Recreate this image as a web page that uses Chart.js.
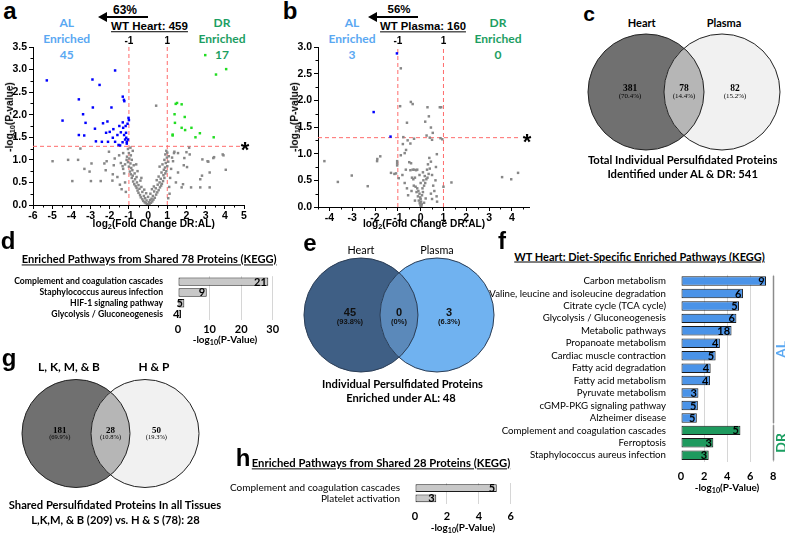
<!DOCTYPE html>
<html><head><meta charset="utf-8"><title>Persulfidation figure</title>
<script src="https://cdn.jsdelivr.net/npm/chart.js@4.4.1/dist/chart.umd.min.js"></script>
<style>
html,body{margin:0;padding:0;background:#fff;}
#fig{position:relative;width:785px;height:536px;overflow:hidden;background:#fff;}
#fig canvas{position:absolute;}
.t{position:absolute;white-space:nowrap;line-height:1;}
.t sub{font-size:72%;vertical-align:-0.3em;line-height:0;}
.arrow{position:absolute;height:0;border-top:2.5px solid #000;}
.arrow:before{content:'';position:absolute;left:-9px;top:-6.25px;border-right:9px solid #000;border-top:5px solid transparent;border-bottom:5px solid transparent;}
</style></head><body><div id="fig"></div>
<script>
// ================= DATA =================
// (a) WT Heart volcano: [log2 fold change DR:AL, -log10 p]
const aGray = [
[0.02,0.01],[-0.05,0.02],[0.08,0.03],[-0.12,0.04],[0.15,0.05],[-0.18,0.06],[0.04,0.06],[0.22,0.08],[-0.25,0.09],[-0.08,0.1],
[0.1,0.11],[0.28,0.12],[-0.3,0.13],[0.18,0.14],[-0.15,0.15],[0.35,0.16],[-0.38,0.17],[0.0,0.18],[-0.22,0.2],[0.25,0.2],
[-0.42,0.22],[0.42,0.23],[0.12,0.25],[-0.1,0.26],[-0.5,0.27],[0.48,0.28],[-0.3,0.29],[0.32,0.3],[-0.55,0.32],[0.55,0.33],
[-0.2,0.34],[0.2,0.35],[-0.45,0.36],[0.4,0.37],[-0.6,0.38],[0.62,0.39],[-0.35,0.4],[0.3,0.41],[-0.65,0.42],[0.68,0.43],
[-0.5,0.44],[0.5,0.45],[-0.72,0.46],[0.72,0.47],[-0.58,0.5],[0.6,0.5],[-0.78,0.52],[0.78,0.53],[-0.4,0.54],[0.45,0.55],
[-0.68,0.57],[0.66,0.58],[-0.85,0.6],[0.85,0.6],[-0.6,0.62],[0.55,0.63],[-0.8,0.65],[0.8,0.66],[-0.9,0.68],[0.9,0.7],
[-0.7,0.7],[0.7,0.72],[-0.95,0.74],[0.95,0.75],[-0.82,0.77],[0.82,0.78],[-0.88,0.82],[0.88,0.83],[-1.0,0.85],[1.0,0.86],
[-0.75,0.88],[0.75,0.9],[-0.92,0.92],[0.92,0.93],[-1.05,0.95],[1.05,0.96],[-0.85,1.0],[0.85,1.0],[-0.98,1.03],[0.98,1.05],
[-1.1,1.07],[1.08,1.08],[-0.9,1.1],[0.9,1.12],[-1.0,1.15],[1.0,1.16],[-0.8,1.2],[0.95,1.2],[-1.05,1.24],[-0.92,1.27],
[-1.2,0.9],[-1.3,0.8],[-1.42,0.93],[-1.51,1.1],[-1.74,1.03],[-1.33,0.86],[-1.25,0.7],[-1.16,0.29],[-1.47,0.45],[-1.79,0.88],
[-1.84,0.68],[-1.86,0.54],[-2.04,1.18],[-2.16,0.97],[-2.28,0.92],[-2.21,0.77],[-2.95,0.92],[-2.47,0.53],[-2.98,0.53],[-3.05,0.74],
[-3.32,0.8],[-3.95,0.53],[-3.53,1.25],[-3.65,1.0],[-4.17,1.0],[-4.98,0.97],[-1.6,0.62],[-1.38,0.35],[-1.2,0.5],[-1.12,1.0],
[-1.3,1.15],[1.35,1.15],[1.56,1.15],[2.0,1.17],[1.89,1.04],[2.17,1.12],[3.1,0.97],[3.4,1.04],[3.89,1.12],[4.05,0.78],
[3.21,0.72],[2.81,0.65],[2.72,0.57],[2.72,0.39],[2.24,0.39],[1.75,0.39],[3.21,0.39],[1.86,0.88],[2.03,0.84],[1.56,0.72],
[1.45,0.5],[1.82,0.46],[1.3,0.97],[1.2,0.8],[1.15,0.6],[1.1,0.4],[1.25,1.05],[2.83,1.01],[3.44,1.06],[3.93,1.1],
[3.14,0.96],[1.37,1.18],[2.14,1.27],[1.12,0.25],[1.05,0.15],[0.42,2.2],[-0.62,0.9],[-0.55,0.75],[0.6,0.85],[-0.35,0.6]
];
const aBlue = [
[-5.28,2.76],[-1.72,2.98],[-2.9,2.78],[-2.53,2.66],[-3.61,2.34],[-1.32,2.4],[-1.26,2.33],[-1.24,2.3],[-2.88,2.16],[-1.91,2.16],
[-3.39,2.01],[-4.46,1.87],[-1.02,1.93],[-1.0,1.88],[-3.26,1.82],[-2.35,1.81],[-2.12,1.85],[-1.32,1.83],[-1.07,1.8],[-2.77,1.69],
[-1.81,1.68],[-1.3,1.71],[-1.17,1.75],[-2.19,1.6],[-1.42,1.61],[-3.61,1.55],[-3.33,1.54],[-1.84,1.49],[-1.14,1.49],[-2.72,1.41],
[-2.41,1.4],[-2.09,1.4],[-1.72,1.4],[-1.33,1.39],[-1.54,1.33],[-1.46,1.32],[-1.11,1.4],[-1.11,1.36],[-1.05,1.45],[-1.6,1.55],
[-2.0,1.62],[-1.25,1.55],[-1.15,1.6],[-1.5,1.75],[-1.2,1.45]
];
const aGreen = [
[2.98,3.32],[4.07,3.01],[3.54,2.89],[1.51,2.26],[1.44,2.24],[1.75,2.23],[1.38,2.01],[1.91,1.95],[1.4,1.82],[1.75,1.71],
[1.93,1.66],[2.26,1.71],[1.28,1.56],[1.28,1.54],[2.7,1.59],[2.47,1.5],[3.42,1.5]
];
const aXTicks = [-6,-5,-4,-3,-2,-1,0,1,2,3,4,5];
const aYTicks = [0,0.5,1,1.5,2,2.5,3,3.5];

// (b) WT Plasma volcano
const bGray = [
[-0.87,2.6],[-0.9,1.89],[-0.43,1.97],[-0.35,1.93],[0.3,1.87],[0.84,1.87],[0.9,1.87],[0.36,1.7],[-0.6,1.58],[0.2,1.6],
[0.45,1.49],[0.53,1.39],[0.26,1.34],[0.4,1.3],[0.87,1.29],[-0.78,1.18],[-0.76,1.31],[-0.29,1.28],[-0.57,1.25],[-0.45,1.19],
[0.71,0.99],[-0.64,1.07],[-0.7,1.01],[-0.87,0.97],[0.67,0.75],[0.95,1.27],[0.5,1.26],
[-4.22,0.86],[-3.63,0.47],[-3.02,0.59],[-2.32,0.39],[-1.91,0.86],[-1.9,0.9],[-1.77,0.95],[-1.3,0.64],[-1.15,0.62],
[-1.03,0.86],[-1.03,0.82],[-1.03,0.78],[-0.96,0.54],[-1.08,0.63],
[1.0,0.38],[1.35,0.46],[3.57,0.56],[3.97,0.52],[4.27,0.64],
[-0.5,0.84],[-0.42,0.82],[-0.35,0.7],[-0.28,0.7],[-0.2,0.69],[-0.15,0.7],[-0.45,0.69],[-0.38,0.55],[-0.32,0.52],[-0.25,0.55],
[-0.3,0.4],[-0.22,0.38],[-0.15,0.35],[-0.1,0.3],[-0.18,0.28],[-0.05,0.25],[-0.12,0.2],[-0.02,0.18],[-0.08,0.12],[0.02,0.1],
[-0.04,0.07],[0.05,0.05],[-0.01,0.03],[0.03,0.01],[0.0,0.15],[0.06,0.22],[0.1,0.28],[0.08,0.35],[0.15,0.4],[0.2,0.45],
[0.12,0.5],[0.25,0.52],[0.18,0.58],[0.3,0.55],[0.35,0.62],[0.28,0.7],[0.4,0.72],[0.32,0.8],[0.45,0.85],[0.38,0.92],
[0.5,0.6],[0.55,0.4],[0.6,0.3],[0.45,0.25],[0.65,0.5],[0.7,0.2],[0.72,0.1],[-0.6,0.35],[-0.55,0.22],[-0.7,0.45],
[-0.65,0.7],[-0.8,0.6],[0.0,0.45],[-0.05,0.6],[0.22,0.16],[0.15,0.08],[-0.25,0.12],[0.1,0.65],[-0.4,0.3],[0.5,0.15]
];
const bBlue = [[-1.04,2.88],[-2.06,1.78],[-1.32,1.32]];
const bGreen = [];
const bXTicks = [-4,-3,-2,-1,0,1,2,3,4];
const bYTicks = [0,0.5,1,1.5,2,2.5,3];

const foldCut = [-1, 1];
const sigCut = 1.3;

// Venn diagrams: [only left, shared, only right]
const cSets = ['Heart','Plasma'];
const cCounts = [381, 78, 82];
const cPct = ['70.4%','14.4%','15.2%'];
const eSets = ['Heart','Plasma'];
const eCounts = [45, 0, 3];
const ePct = ['93.8%','0%','6.3%'];
const gSets = ['L, K, M, & B','H & P'];
const gCounts = [181, 28, 50];
const gPct = ['69.9%','10.8%','19.3%'];

// (d) pathways from shared 78 proteins
const dPathways = ['Complement and coagulation cascades','Staphylococcus aureus infection','HIF-1 signaling pathway','Glycolysis / Gluconeogenesis'];
const dLogP = [28.6, 9.1, 2.0, 0.95];
const dCounts = [21, 9, 5, 4];
const dTicks = [0,10,20,30];

// (f) diet-specific enriched pathways
const fPathways = ['Carbon metabolism','Valine, leucine and isoleucine degradation','Citrate cycle (TCA cycle)','Glycolysis / Gluconeogenesis','Metabolic pathways','Propanoate metabolism','Cardiac muscle contraction','Fatty acid degradation','Fatty acid metabolism','Pyruvate metabolism','cGMP-PKG signaling pathway','Alzheimer disease','Complement and coagulation cascades','Ferroptosis','Staphylococcus aureus infection'];
const fLogP = [7.37, 5.37, 5.03, 4.8, 4.38, 3.37, 3.0, 2.57, 2.51, 1.51, 1.46, 1.37, 5.15, 2.8, 2.4];
const fCounts = [9, 6, 5, 6, 18, 4, 5, 4, 4, 3, 5, 5, 5, 3, 3];
const fDiet = ['AL','AL','AL','AL','AL','AL','AL','AL','AL','AL','AL','AL','DR','DR','DR'];
const fTicks = [0,2,4,6,8];

// (h) pathways from shared 28 proteins
const hPathways = ['Complement and coagulation cascades','Platelet activation'];
const hLogP = [5.12, 1.33];
const hCounts = [5, 3];
const hTicks = [0,2,4,6];

// ================= STYLE / HELPERS =================
const FS = "'Liberation Sans', Arial, sans-serif";
const FL = "Lato, 'Open Sans', sans-serif";
const FR = "'Liberation Serif', 'Times New Roman', serif";
const AL_COLOR = '#5aa8f2', DR_COLOR = '#1c9e62';
const fig = document.getElementById('fig');
const mctx = document.createElement('canvas').getContext('2d');
function fitSize(text, family, weight, target){
  mctx.font = weight + ' 100px ' + family;
  return 100 * target / mctx.measureText(text).width;
}
function T(html, x, y, o){
  o = o || {};
  const d = document.createElement('div');
  d.className = 't';
  d.innerHTML = html;
  const fam = o.f || FL, w = o.w || 'bold';
  let size = o.s || 11;
  if (o.fit) size = fitSize(o.plain || html, fam, w, o.fit);
  d.style.fontFamily = fam; d.style.fontWeight = w; d.style.fontSize = size + 'px';
  d.style.color = o.c || '#000';
  d.style.left = x + 'px'; d.style.top = y + 'px';
  if (o.u) d.style.textDecoration = 'underline';
  let tr = o.left ? 'translate(0,-50%)' : 'translate(-50%,-50%)';
  if (o.rot) tr += ' rotate(' + o.rot + 'deg)';
  d.style.transform = tr;
  fig.appendChild(d);
  return size;
}
function arrow(x1, x2, y){
  const d = document.createElement('div');
  d.className = 'arrow';
  d.style.left = (x1 + 9) + 'px'; d.style.width = (x2 - x1 - 9) + 'px'; d.style.top = (y - 1.25) + 'px';
  fig.appendChild(d);
}
function makeCanvas(left, top, w, h){
  const c = document.createElement('canvas');
  c.width = w; c.height = h;
  c.style.left = left + 'px'; c.style.top = top + 'px';
  c.style.width = w + 'px'; c.style.height = h + 'px';
  fig.appendChild(c);
  return c;
}
function minors(majors, lo, hi, step){
  const out = [];
  majors.forEach(v => { [v - step, v + step].forEach(m => { if (m > lo - 1e-9 && m < hi + 1e-9 && !majors.includes(m) && !out.includes(m)) out.push(m); }); });
  return out;
}

// ================= PLUGINS =================
const volcanoDecor = {
  id: 'volcanoDecor',
  afterDraw(chart, args, o){
    const {ctx, chartArea: ca, scales: {x, y}} = chart;
    ctx.save();
    ctx.strokeStyle = '#000'; ctx.lineWidth = 1;
    ctx.beginPath();
    o.xMinor.forEach(v => { const px = Math.round(x.getPixelForValue(v)) + 0.5; ctx.moveTo(px, ca.bottom); ctx.lineTo(px, ca.bottom + 2.5); });
    o.yMinor.forEach(v => { const py = Math.round(y.getPixelForValue(v)) + 0.5; ctx.moveTo(ca.left, py); ctx.lineTo(ca.left - 2.5, py); });
    ctx.stroke();
    ctx.fillStyle = '#000'; ctx.font = 'bold 10px ' + FS; ctx.textAlign = 'center'; ctx.textBaseline = 'bottom';
    foldCut.forEach(v => ctx.fillText(String(v), x.getPixelForValue(v), ca.top - 0.5));
    ctx.font = 'bold 22px ' + FS; ctx.textBaseline = 'alphabetic';
    ctx.fillText('*', ca.right + o.starDx, y.getPixelForValue(sigCut) + 11);
    ctx.restore();
  }
};
const vennPlugin = {
  id: 'venn',
  afterDraw(chart, args, o){
    const {ctx, scales: {x, y}} = chart;
    const c1 = x.getPixelForValue(-o.sep), c2 = x.getPixelForValue(o.sep), cy = y.getPixelForValue(0);
    const r = x.getPixelForValue(1) - x.getPixelForValue(0);
    const circ = cx => { ctx.beginPath(); ctx.arc(cx, cy, r, 0, Math.PI * 2); };
    ctx.save();
    circ(c1); ctx.fillStyle = o.colors[0]; ctx.fill();
    circ(c2); ctx.fillStyle = o.colors[2]; ctx.fill();
    ctx.save(); circ(c1); ctx.clip(); circ(c2); ctx.fillStyle = o.colors[1]; ctx.fill(); ctx.restore();
    ctx.strokeStyle = o.stroke; ctx.lineWidth = 1;
    circ(c1); ctx.stroke(); circ(c2); ctx.stroke();
    ctx.fillStyle = o.textColor; ctx.textAlign = 'center'; ctx.textBaseline = 'middle';
    o.labelX.forEach((lx, i) => {
      const px = x.getPixelForValue(lx);
      ctx.font = o.countFont; ctx.fillText(String(o.counts[i]), px, cy + o.countDy);
      ctx.font = o.pctFont; ctx.fillText('(' + o.pct[i] + ')', px, cy + o.pctDy);
    });
    ctx.restore();
  }
};
const barCounts = {
  id: 'barCounts',
  afterDatasetsDraw(chart, args, o){
    const ctx = chart.ctx, meta = chart.getDatasetMeta(0);
    ctx.save();
    ctx.font = 'bold ' + o.size + 'px ' + FL; ctx.fillStyle = '#000'; ctx.textAlign = 'right'; ctx.textBaseline = 'middle';
    meta.data.forEach((bar, i) => ctx.fillText(String(o.counts[i]), bar.x - 1.5, bar.y + 0.5));
    ctx.restore();
  }
};
const dietBracket = {
  id: 'dietBracket',
  afterDraw(chart, args, o){
    if (!o || !o.groups) return;
    const {ctx, scales: {x, y}} = chart;
    const band = Math.abs(y.getPixelForValue(1) - y.getPixelForValue(0));
    const xr = Math.round(x.getPixelForValue(x.max)) + 0.5;
    ctx.save();
    o.groups.forEach(g => {
      const y0 = y.getPixelForValue(g.start) - band / 2 + 1, y1 = y.getPixelForValue(g.end) + band / 2 - 1;
      ctx.strokeStyle = '#8c8c8c'; ctx.lineWidth = 1.5;
      ctx.beginPath(); ctx.moveTo(xr, y0); ctx.lineTo(xr, y1); ctx.stroke();
      ctx.save(); ctx.translate(xr + o.dx, (y0 + y1) / 2); ctx.rotate(-Math.PI / 2);
      ctx.fillStyle = g.color; ctx.font = 'bold ' + o.size + 'px ' + FL; ctx.textAlign = 'center'; ctx.textBaseline = 'middle';
      ctx.fillText(g.name, 0, 0); ctx.restore();
    });
    ctx.restore();
  }
};

// ================= CHART BUILDERS =================
function volcano(o){
  const cv = makeCanvas(o.left, o.top, o.w, o.h);
  const pts = a => a.map(p => ({x: p[0], y: p[1]}));
  const ptDs = (arr, color, order) => ({data: pts(arr), backgroundColor: color, borderWidth: 0, pointStyle: 'rect', pointRadius: 1.75, order});
  const lineDs = data => ({data, showLine: true, borderColor: '#ff6b6b', borderWidth: 1, borderDash: [4, 3], pointRadius: 0, order: 9, fill: false});
  const tickFont = {family: FS, size: 10.5, weight: 'bold'};
  const grid = {drawOnChartArea: false, drawTicks: true, tickLength: 4, color: '#000', lineWidth: 1};
  new Chart(cv, {
    type: 'scatter',
    data: {datasets: [
      lineDs([{x: foldCut[0], y: 0}, {x: foldCut[0], y: o.ymax}]),
      lineDs([{x: foldCut[1], y: 0}, {x: foldCut[1], y: o.ymax}]),
      lineDs([{x: o.xmin, y: sigCut}, {x: o.hEnd, y: sigCut}]),
      ptDs(o.gray, '#878787', 5),
      ptDs(o.blue, '#0000ff', 2),
      ptDs(o.green, '#22dd22', 1)
    ]},
    options: {
      responsive: false, animation: false, events: [],
      layout: {padding: {top: o.padTop, right: o.padRight, left: 0, bottom: 0}},
      plugins: {legend: {display: false}, tooltip: {enabled: false},
        volcanoDecor: {xMinor: minors(o.xTicks, o.xmin, o.xmax, 0.5), yMinor: minors(o.yTicks, 0, o.ymax, 0.25), starDx: o.starDx}},
      scales: {
        x: {type: 'linear', min: o.xmin, max: o.xmax,
          afterBuildTicks: s => { s.ticks = o.xTicks.map(v => ({value: v})); },
          afterFit: s => { s.height = 30; },
          ticks: {font: tickFont, color: '#000', padding: 1, maxRotation: 0, autoSkip: false},
          grid, border: {color: '#000', width: 1}},
        y: {type: 'linear', min: 0, max: o.ymax,
          afterBuildTicks: s => { s.ticks = o.yTicks.map(v => ({value: v})); },
          afterFit: s => { s.width = o.yw; },
          ticks: {font: tickFont, color: '#000', padding: 2, autoSkip: false, callback: v => Number(v).toFixed(1)},
          grid, border: {color: '#000', width: 1}}
      }
    },
    plugins: [volcanoDecor]
  });
}
function venn(o){
  const cv = makeCanvas(o.left, o.top, o.w, o.h);
  const xr = o.w / 2 / o.r, yr = o.h / 2 / o.r;
  new Chart(cv, {
    type: 'scatter',
    data: {datasets: [{data: o.labelX.map(v => ({x: v, y: 0})), pointRadius: 0}]},
    options: {responsive: false, animation: false, events: [], layout: {padding: 0},
      plugins: {legend: {display: false}, tooltip: {enabled: false},
        venn: {sep: o.sep, colors: o.colors, stroke: o.stroke, counts: o.counts, pct: o.pct, labelX: o.labelX,
          countFont: o.countFont, pctFont: o.pctFont, countDy: o.countDy, pctDy: o.pctDy, textColor: o.textColor || '#000'}},
      scales: {x: {type: 'linear', display: false, min: -xr, max: xr}, y: {type: 'linear', display: false, min: -yr, max: yr}}},
    plugins: [vennPlugin]
  });
}
function hbar(o){
  const cv = makeCanvas(o.left, o.top, o.w, o.h);
  new Chart(cv, {
    type: 'bar',
    data: {labels: o.labels, datasets: [{data: o.values, backgroundColor: o.colors, borderColor: '#1a1a1a', borderWidth: 1,
      borderSkipped: false, barPercentage: o.bp, categoryPercentage: 1}]},
    options: {indexAxis: 'y', responsive: false, animation: false, events: [],
      layout: {padding: {top: o.padTop, right: o.padRight, left: 0, bottom: 0}},
      plugins: {legend: {display: false}, tooltip: {enabled: false},
        barCounts: {counts: o.counts, size: o.countSize}, dietBracket: o.bracket || false},
      scales: {
        x: {type: 'linear', min: 0, max: o.max,
          afterBuildTicks: s => { s.ticks = o.ticks.map(v => ({value: v})); },
          afterFit: s => { s.height = o.xh; },
          ticks: {font: {family: FL, size: 11, weight: 'bold'}, color: '#000', padding: o.tickPad, maxRotation: 0, autoSkip: false},
          grid: {drawTicks: false, color: c => (c.tick && c.tick.value === 0) ? 'rgba(0,0,0,0)' : '#d6d6d6', lineWidth: 1},
          border: {display: false}},
        y: {afterFit: s => { s.width = o.yw; },
          ticks: {font: {family: FL, size: o.labelSize, weight: o.labelWeight}, color: '#000', padding: 7, autoSkip: false},
          grid: {display: false}, border: {display: false}}
      }},
    plugins: [barCounts, dietBracket]
  });
}

// ================= PANEL a =================
T('a', 10, 11, {f: FS, s: 24});
T('63%', 125, 10, {f: FS, fit: 24});
arrow(98, 148, 17);
T('WT Heart: 459', 149.5, 27, {f: FS, fit: 77, u: true});
const enrSize = fitSize('Enriched', FL, 'bold', 47);
['AL', 'Enriched', '45'].forEach((s, i) => T(s, 66.7, 23 + i * 16, {s: enrSize, c: AL_COLOR}));
['DR', 'Enriched', '17'].forEach((s, i) => T(s, 222, 23 + i * 16, {s: enrSize, c: DR_COLOR}));
volcano({left: 0, top: 0, w: 250, h: 235, padTop: 47, padRight: 6, yw: 33, xmin: -6, xmax: 5, ymax: 3.5, hEnd: 4.8, starDx: 1,
  gray: aGray, blue: aBlue, green: aGreen, xTicks: aXTicks, yTicks: aYTicks});
const axTitle = fitSize('-log10(P-value)', FS, 'bold', 73);
T('-log<sub>10</sub>(P-value)', 10, 117, {f: FS, s: axTitle, rot: -90});
T('log<sub>2</sub>(Fold Change DR:AL)', 153.7, 224, {f: FS, s: axTitle});

// ================= PANEL b =================
T('b', 290, 11, {f: FS, s: 24});
T('56%', 399, 10, {f: FS, fit: 23});
arrow(368, 418, 17);
T('WT Plasma: 160', 423, 27, {f: FS, fit: 86, u: true});
['AL', 'Enriched', '3'].forEach((s, i) => T(s, 352, 23 + i * 16, {s: enrSize, c: AL_COLOR}));
['DR', 'Enriched', '0'].forEach((s, i) => T(s, 498, 23 + i * 16, {s: enrSize, c: DR_COLOR}));
volcano({left: 270, top: 0, w: 265, h: 237, padTop: 47, padRight: 6, yw: 48, xmin: -4.5, xmax: 4.75, ymax: 3.0, hEnd: 4.35, starDx: -2,
  gray: bGray, blue: bBlue, green: bGreen, xTicks: bXTicks, yTicks: bYTicks});
T('-log<sub>10</sub>(P-value)', 295, 117, {f: FS, s: axTitle, rot: -90});
T('log<sub>2</sub>(Fold Change DR:AL)', 424, 224, {f: FS, s: axTitle});

// ================= PANEL c =================
T('c', 589, 13, {f: FS, s: 21});
const setSize = fitSize('Heart', FL, 'bold', 28);
T(cSets[0], 641.7, 23, {s: setSize});
T(cSets[1], 724, 23, {s: setSize});
venn({left: 583.7, top: 30, w: 200, h: 124, r: 58, sep: 0.655, colors: ['#707070', '#b6b6b6', '#f1f1f1'], stroke: '#222',
  counts: cCounts, pct: cPct, labelX: [-0.93, 0, 0.88], countFont: 'bold 9.5px ' + FR, pctFont: '7px ' + FR, countDy: -3.5, pctDy: 4});
const capSize = fitSize('Total Individual Persulfidated Proteins', FL, 'bold', 190);
T('Total Individual Persulfidated Proteins', 682.7, 160, {s: capSize});
T('Identified under AL &amp; DR: 541', 682.7, 174, {s: capSize});

// ================= PANEL d =================
T('d', 8, 241, {f: FS, s: 24});
T('Enriched Pathways from Shared 78 Proteins (KEGG)', 21.7, 259, {fit: 255, u: true, left: true});
hbar({left: 0, top: 264, w: 285, h: 70, padTop: 3.5, padRight: 12.3, yw: 178, xh: 14.5, tickPad: 3, max: 30, ticks: dTicks,
  labels: dPathways, values: dLogP, counts: dCounts, colors: '#c8c8c8', bp: 0.78, countSize: 11,
  labelSize: fitSize('Complement and coagulation cascades', FL, 'bold', 149), labelWeight: 'bold'});
const plTitle = fitSize('-log10(P-Value)', FL, 'bold', 68);
T('-log<sub>10</sub>(P-Value)', 225, 340, {s: plTitle});

// ================= PANEL e =================
T('e', 310, 243, {f: FS, s: 24});
const eSetSize = fitSize('Heart', FL, 'normal', 27);
T(eSets[0], 361, 250, {s: eSetSize, w: 'normal'});
T(eSets[1], 437, 250, {s: eSetSize, w: 'normal'});
venn({left: 299, top: 255, w: 200, h: 120, r: 57, sep: 0.667, colors: ['#3f5f85', '#5b89ba', '#70b2f0'], stroke: '#2b3d55',
  counts: eCounts, pct: ePct, labelX: [-0.86, 0, 0.88], countFont: 'bold 11px ' + FS, pctFont: 'bold 7.5px ' + FS, countDy: -2, pctDy: 6.5,
  textColor: '#111'});
const eCap = fitSize('Individual Persulfidated Proteins', FL, 'bold', 161);
T('Individual Persulfidated Proteins', 402.5, 384, {s: eCap});
T('Enriched under AL: 48', 401, 398, {s: eCap});

// ================= PANEL f =================
T('f', 502, 241, {f: FS, s: 24});
T('WT Heart: Diet-Specific Enriched Pathways (KEGG)', 639.5, 256, {fit: 251, u: true});
const fGroups = [];
fDiet.forEach((g, i) => {
  const last = fGroups[fGroups.length - 1];
  if (last && last.name === g) last.end = i;
  else fGroups.push({name: g, start: i, end: i, color: g === 'AL' ? AL_COLOR : DR_COLOR});
});
hbar({left: 480, top: 262, w: 305, h: 224, padTop: 4.8, padRight: 11.7, yw: 201, xh: 24.5, tickPad: 8, max: 8, ticks: fTicks,
  labels: fPathways, values: fLogP, counts: fCounts, colors: fDiet.map(g => g === 'AL' ? '#4a93e8' : '#1e9a5e'), bp: 0.76, countSize: 11,
  labelSize: fitSize('Valine, leucine and isoleucine degradation', FL, 'normal', 177), labelWeight: 'normal',
  bracket: {groups: fGroups, dx: 8, size: 14}});
T('-log<sub>10</sub>(P-Value)', 727, 488, {s: plTitle});

// ================= PANEL g =================
T('g', 9, 358, {f: FS, s: 24});
const gSetSize = fitSize('L, K, M, & B', FL, 'bold', 62);
T(gSets[0], 69, 367, {s: gSetSize});
T(gSets[1], 154, 367, {s: gSetSize});
venn({left: 18, top: 376, w: 185, h: 115, r: 54, sep: 0.639, colors: ['#707070', '#b6b6b6', '#f1f1f1'], stroke: '#222',
  counts: gCounts, pct: gPct, labelX: [-0.94, 0, 0.85], countFont: 'bold 9px ' + FR, pctFont: '6.5px ' + FR, countDy: -3, pctDy: 3.5});
const gCap = fitSize('Shared Persulfidated Proteins In all Tissues', FL, 'bold', 213);
T('Shared Persulfidated Proteins In all Tissues', 115, 505, {s: gCap});
T('L,K,M, &amp; B (209) vs. H &amp; S (78): 28', 115.5, 520, {s: gCap});

// ================= PANEL h =================
T('h', 243, 458, {f: FS, s: 24});
T('Enriched Pathways from Shared 28 Proteins (KEGG)', 381, 463, {fit: 259, u: true});
hbar({left: 230, top: 470, w: 290, h: 54, padTop: 3.5, padRight: 9.2, yw: 185, xh: 20.5, tickPad: 6, max: 6, ticks: hTicks,
  labels: hPathways, values: hLogP, counts: hCounts, colors: '#c8c8c8', bp: 0.74, countSize: 11,
  labelSize: fitSize('Complement and coagulation cascades', FL, 'normal', 170), labelWeight: 'normal'});
T('-log<sub>10</sub>(P-Value)', 463, 528, {s: plTitle});
</script></body></html>
